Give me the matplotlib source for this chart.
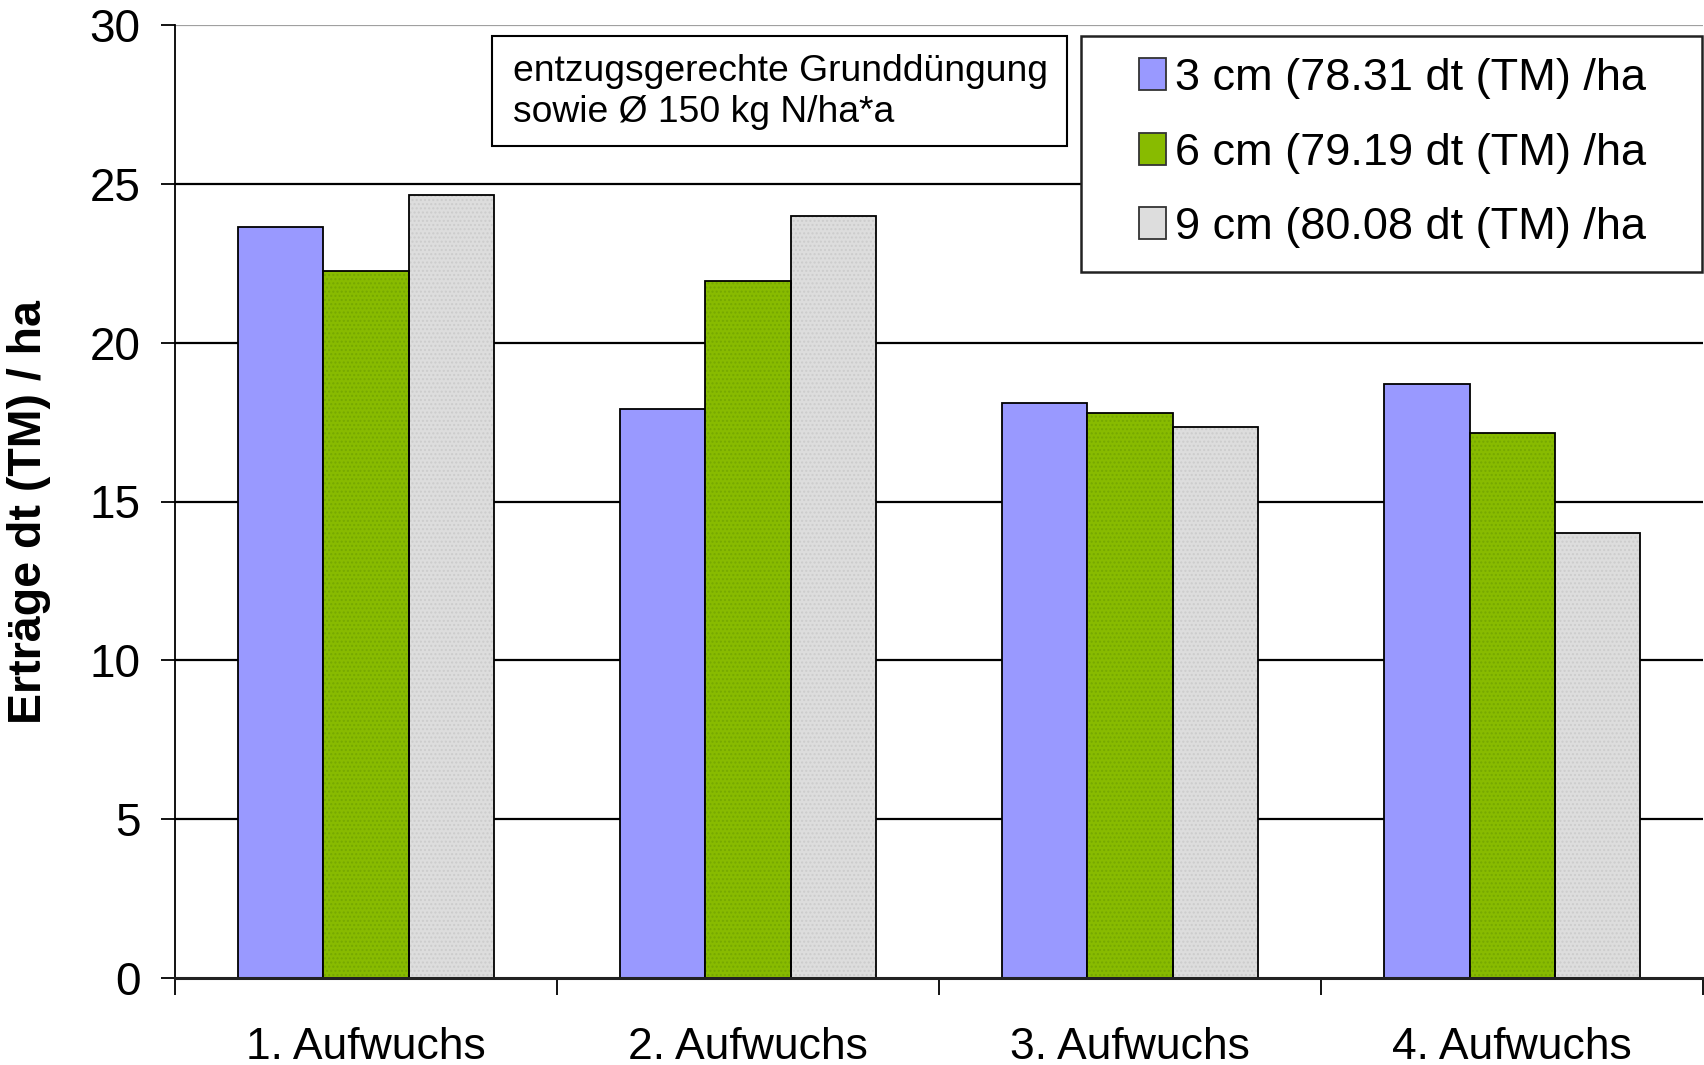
import matplotlib.pyplot as plt
from matplotlib.patches import Rectangle
import numpy as np

plt.rcParams['font.family'] = ['Liberation Sans', 'DejaVu Sans']

# data
categories = ['1. Aufwuchs', '2. Aufwuchs', '3. Aufwuchs', '4. Aufwuchs']
series_labels = ['3 cm (78.31 dt (TM) /ha', '6 cm (79.19 dt (TM) /ha', '9 cm (80.08 dt (TM) /ha']
cm3 = [23.65, 17.9, 18.1, 18.7]
cm6 = [22.25, 21.95, 17.8, 17.15]
cm9 = [24.65, 24.0, 17.35, 14.0]
y_ticks = [0, 5, 10, 15, 20, 25, 30]
note = 'entzugsgerechte Grunddüngung\nsowie Ø 150 kg N/ha*a'

W, H = 1704, 1065
fig = plt.figure(figsize=(W / 100, H / 100), dpi=100)
ax = fig.add_axes([175 / W, 1 - 978 / H, 1 - 175 / W - 0.0005, (978 - 25) / H])

x = np.arange(len(categories))
bw = 0.223
styles = [
    dict(color='#9999FF', hatch=None, hc=None),
    dict(color='#88BB00', hatch='....', hc='#76A800'),
    dict(color='#DDDDDD', hatch='....', hc='#CCCCCC'),
]
handles = []
for i, (vals, st) in enumerate(zip([cm3, cm6, cm9], styles)):
    pos = x + (i - 1) * bw
    if st['hatch']:
        ax.bar(pos, vals, bw, color=st['color'], edgecolor=st['hc'], hatch=st['hatch'],
               linewidth=0, zorder=2)
        ax.bar(pos, vals, bw, fill=False, edgecolor='black', linewidth=1.3, zorder=3)
    else:
        ax.bar(pos, vals, bw, color=st['color'], edgecolor='black', linewidth=1.3, zorder=2)
    handles.append(Rectangle((0, 0), 1, 1, facecolor=st['color'], edgecolor='#333333',
                             linewidth=1.3))

ax.set_xlim(-0.5, 3.5)
ax.set_ylim(0, 30)

# grid lines
for yv in y_ticks[1:-1]:
    ax.axhline(yv, color='black', linewidth=1.6, zorder=1)
ax.axhline(30, color='#A0A0A0', linewidth=1.6, zorder=1)

for s in ['top', 'right']:
    ax.spines[s].set_visible(False)
ax.spines['left'].set_linewidth(1.3)
ax.spines['bottom'].set_linewidth(2.2)
ax.spines['bottom'].set_color('#222222')
ax.spines['bottom'].set_zorder(4)

ax.set_yticks(y_ticks)
ax.tick_params(axis='y', direction='out', length=10, width=1.3, pad=15, labelsize=33)

ax.set_xticks(np.arange(-0.5, 4.0, 1.0))
ax.set_xticklabels([])
ax.tick_params(axis='x', which='major', direction='out', length=12, width=1.3)
ax.set_xticks(x, minor=True)
ax.set_xticklabels(categories, minor=True)
ax.tick_params(axis='x', which='minor', length=0, pad=35, labelsize=32)

ax.set_ylabel('Erträge dt (TM) / ha', fontsize=33.5, fontweight='bold')
ax.yaxis.set_label_coords(-0.081, 0.489)

# note box
fig.patches.append(Rectangle((492 / W, 1 - 146 / H), (1067 - 492) / W, (146 - 36) / H,
                             transform=fig.transFigure, fill=True, facecolor='white',
                             edgecolor='black', linewidth=1.5, zorder=5))
fig.text(513 / W, 1 - 92 / H, note, fontsize=26.8, va='center', ha='left',
         linespacing=1.22, zorder=6)

# legend box
fig.patches.append(Rectangle((1081 / W, 1 - 272 / H), (1702 - 1081) / W, (272 - 36) / H,
                             transform=fig.transFigure, fill=True, facecolor='white',
                             edgecolor='#222222', linewidth=1.8, zorder=5))
leg = fig.legend(handles, series_labels, loc='center left',
                 bbox_to_anchor=(1116 / W, 1 - 153 / H), frameon=False, fontsize=32.5,
                 handlelength=0.6, handleheight=0.72, handletextpad=0.2,
                 labelspacing=0.74, borderpad=0)
leg.set_zorder(6)

fig.savefig('out.png', dpi=100)
